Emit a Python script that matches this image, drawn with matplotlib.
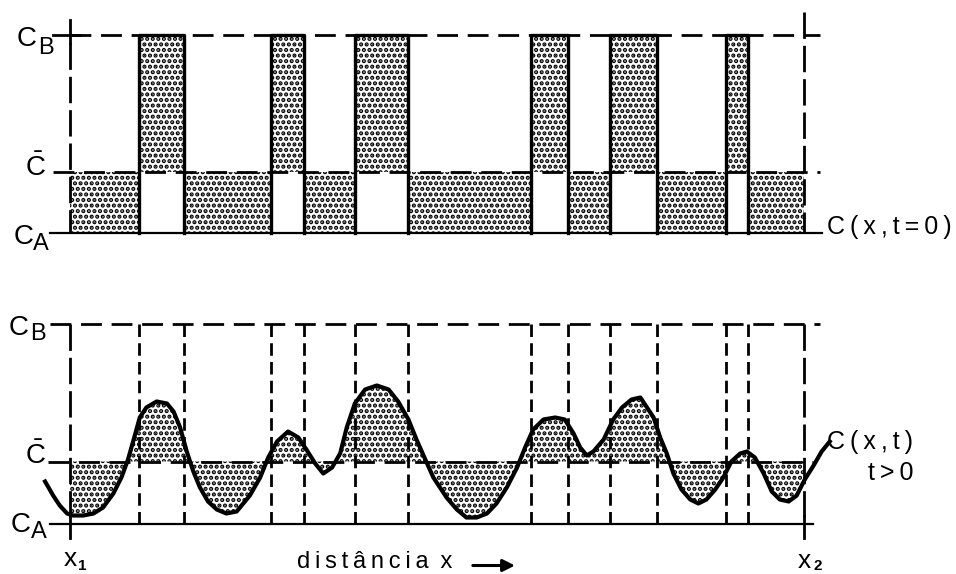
import numpy as np
import matplotlib.pyplot as plt
from matplotlib.patches import Rectangle

plt.rcParams['font.family'] = ['Liberation Sans', 'DejaVu Sans']
plt.rcParams['mathtext.fontset'] = 'custom'
plt.rcParams['mathtext.rm'] = 'Liberation Sans'
plt.rcParams['hatch.linewidth'] = 2.1
plt.rcParams['lines.scale_dashes'] = False

# niveis de concentracao
C_A = 0.0
C_B = 1.0
C_med = 0.31

# fronteiras das regioes entre x1 (=0) e x2 (=100)
fronteiras = [0, 9.4, 15.5, 27.4, 31.9, 38.8, 46.1, 62.8, 67.8, 73.5, 80.0, 89.3, 92.3, 100]
x1, x2 = 0, 100

# perfil C(x,t) para t > 0
x_curva = [-3.4, -2.3, -1.4, -0.4, 0.4, 1.8, 3.2, 4.5, 5.9, 7.0,
           7.9, 8.9, 9.5, 10.4, 11.8, 13.2, 14.1, 15.0, 15.9, 16.8,
           17.7, 18.8, 20.0, 21.3, 22.7, 24.5, 25.9, 27.0, 28.2, 29.7,
           31.1, 32.2, 33.4, 34.5, 35.7, 36.8, 37.7, 38.8, 40.2, 41.8,
           43.4, 44.7, 46.1, 47.2, 48.4, 49.5, 50.4, 51.3, 52.7, 54.0,
           55.4, 56.8, 58.1, 59.5, 60.9, 62.0, 63.1, 64.5, 66.1, 67.4,
           68.6, 69.5, 70.4, 71.3, 72.7, 74.0, 75.2, 76.5, 77.7, 78.6,
           79.5, 80.4, 81.3, 82.2, 83.3, 84.5, 85.6, 86.7, 87.9, 89.0,
           90.1, 91.3, 92.2, 93.3, 94.5, 95.6, 96.7, 97.9, 99.0, 100.1,
           101.3, 102.4, 103.5]
c_curva = [0.21, 0.14, 0.09, 0.05, 0.04, 0.04, 0.05, 0.08, 0.15, 0.23,
           0.32, 0.45, 0.53, 0.58, 0.61, 0.60, 0.56, 0.48, 0.36, 0.26,
           0.18, 0.11, 0.07, 0.05, 0.06, 0.14, 0.23, 0.33, 0.41, 0.46,
           0.43, 0.37, 0.30, 0.25, 0.28, 0.35, 0.48, 0.60, 0.67, 0.69,
           0.67, 0.61, 0.52, 0.42, 0.32, 0.23, 0.18, 0.13, 0.07, 0.03,
           0.03, 0.05, 0.10, 0.18, 0.28, 0.38, 0.47, 0.52, 0.53, 0.52,
           0.45, 0.38, 0.34, 0.36, 0.42, 0.52, 0.58, 0.62, 0.63, 0.58,
           0.53, 0.43, 0.35, 0.25, 0.17, 0.12, 0.10, 0.12, 0.17, 0.23,
           0.31, 0.35, 0.36, 0.33, 0.25, 0.16, 0.12, 0.11, 0.14, 0.22,
           0.29, 0.36, 0.41]

tr_longo = (0, (19, 5))
tr_horiz = (0, (15, 7))
tr_curto = (0, (9, 4.5))
pontos = '...'

fig = plt.figure(figsize=(9.56, 5.74), dpi=100)
ax1 = fig.add_axes([0, 0.5, 1, 0.5])
ax2 = fig.add_axes([0, 0, 1, 0.5])
for ax in (ax1, ax2):
    ax.set_xlim(-9.54, 120.7)
    ax.axis('off')
ax1.set_ylim(-0.273, 1.177)
ax2.set_ylim(-0.2525, 1.1825)

# ---- painel de cima: C(x, t=0)
ax1.plot([-2.7, 102.5], [C_A, C_A], color='k', lw=1.6)
ax1.plot([-2.3, 102.2], [C_med, C_med], color='k', lw=2, linestyle=tr_horiz)
ax1.plot([x1, 102.2], [C_B, C_B], color='k', lw=2, linestyle=tr_horiz)
ax1.plot([-2.3, 1.4], [C_B, C_B], color='k', lw=2)
ax1.plot([x1, x1], [1.076, 0.96], color='k', lw=2)
ax1.plot([x1, x1], [0.96, C_A], color='k', lw=2, linestyle=tr_longo)
ax1.plot([x2, x2], [1.116, C_A], color='k', lw=2, linestyle=tr_longo)

for i in range(len(fronteiras) - 1):
    a, b = fronteiras[i], fronteiras[i + 1]
    if i % 2 == 0:
        ax1.fill_between([a, b], [C_A, C_A], [C_med, C_med], facecolor='white',
                         edgecolor='k', linewidth=0, hatch=pontos)
    else:
        ax1.fill_between([a, b], [C_med, C_med], [C_B, C_B], facecolor='white',
                         edgecolor='k', linewidth=0, hatch=pontos)
        ax1.plot([a, a, b, b], [C_A, C_B, C_B, C_A], color='k', lw=2.4)

ax1.text(-5.9, 0.98, 'C', fontsize=20, ha='center', va='center')
ax1.text(-3.3, 0.937, 'B', fontsize=17, ha='center', va='center')
ax1.text(-4.7, 0.33, r'$\bar{\mathrm{C}}$', fontsize=20, ha='center', va='center')
ax1.text(-6.3, -0.02, 'C', fontsize=20, ha='center', va='center')
ax1.text(-3.95, -0.056, 'A', fontsize=17, ha='center', va='center')
ax1.text(103.1, 0.03, 'C\u2009(\u2009x\u2009,\u2009t\u2009=\u20090\u2009)', fontsize=18,
         ha='left', va='center')

# ---- painel de baixo: C(x, t>0)
ax2.plot([-2.7, 101.2], [C_A, C_A], color='k', lw=1.6)
ax2.plot([-2.7, 102.2], [C_B, C_B], color='k', lw=2, linestyle=tr_horiz)
ax2.plot([-3.0, 101.2], [C_med, C_med], color='k', lw=2, linestyle=tr_horiz)
for xf in fronteiras:
    estilo = tr_longo if xf in (x1, x2) else tr_curto
    ax2.plot([xf, xf], [C_B, C_A], color='k', lw=2, linestyle=estilo)
for xf in (x1, x2):
    ax2.plot([xf, xf], [0.04, -0.07], color='k', lw=2)

preench = ax2.fill_between(x_curva, c_curva, C_med, facecolor='white',
                           edgecolor='k', linewidth=0, hatch=pontos)
preench.set_clip_path(Rectangle((x1, -1), x2 - x1, 3, transform=ax2.transData))
ax2.plot(x_curva, c_curva, color='k', lw=3)

ax2.text(-6.95, 0.978, 'C', fontsize=20, ha='center', va='center')
ax2.text(-4.43, 0.95, 'B', fontsize=17, ha='center', va='center')
ax2.text(-4.77, 0.34, r'$\bar{\mathrm{C}}$', fontsize=20, ha='center', va='center')
ax2.text(-6.68, -0.0075, 'C', fontsize=20, ha='center', va='center')
ax2.text(-4.2, -0.04, 'A', fontsize=17, ha='center', va='center')
ax2.text(0.1, -0.18, 'x', fontsize=19, ha='center', va='center')
ax2.text(1.7, -0.21, '1', fontsize=11, ha='center', va='center', fontweight='bold')
ax2.text(100.1, -0.19, 'x', fontsize=19, ha='center', va='center')
ax2.text(101.9, -0.21, '2', fontsize=11, ha='center', va='center', fontweight='bold')
ax2.text(114.85, 0.41, 'C\u2009(\u2009x\u2009,\u2009t\u2009)', fontsize=18, ha='right', va='center')
ax2.text(114.85, 0.25, 't\u2009>\u20090', fontsize=18, ha='right', va='center')
ax2.text(30.9, -0.19, 'd\u2009i\u2009s\u2009t\u2009â\u2009n\u2009c\u2009i\u2009a\u2002x', fontsize=17,
         ha='left', va='center')
ax2.annotate('', xy=(61.0, -0.21), xytext=(54.5, -0.21),
             arrowprops=dict(arrowstyle='-|>', color='k', lw=2.2, mutation_scale=18))

fig.savefig('out.png', dpi=100)
